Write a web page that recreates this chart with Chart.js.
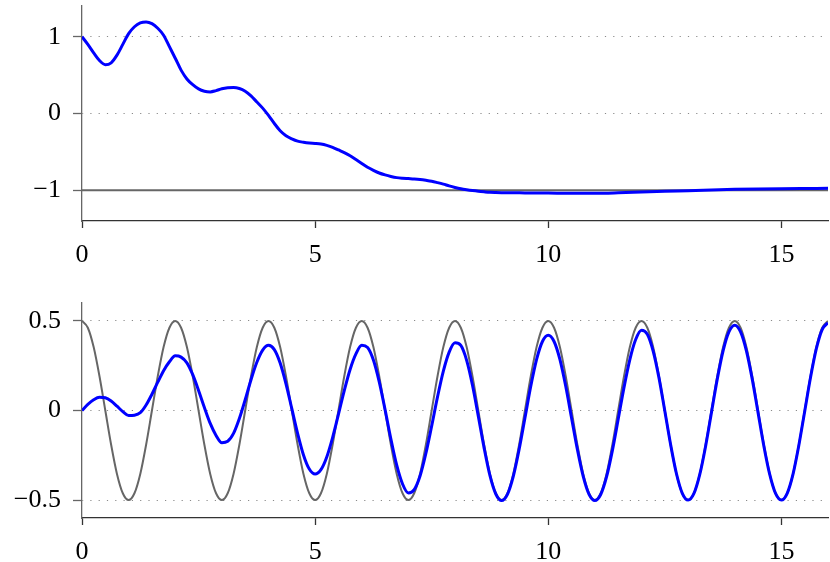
<!DOCTYPE html>
<html>
<head>
<meta charset="utf-8">
<script src="https://cdn.jsdelivr.net/npm/chart.js@4"></script>
<style>
  html, body { margin: 0; padding: 0; background: #fff; }
  #wrap { position: relative; width: 830px; height: 562px; }
  canvas { position: absolute; left: 0; }
</style>
</head>
<body>
<div id="wrap">
  <canvas id="top" width="830" height="270" style="top:0"></canvas>
  <canvas id="bottom" width="830" height="272" style="top:290px"></canvas>
</div>
<script>
// top panel: response vs the constant target -1
const topXs = [0, 0.125, 0.25, 0.375, 0.5, 0.625, 0.75, 0.875, 1, 1.125, 1.25, 1.375, 1.5, 1.625, 1.75, 1.875,
  2, 2.125, 2.25, 2.375, 2.5, 2.625, 2.75, 2.875, 3, 3.125, 3.25, 3.375, 3.5, 3.625, 3.75, 3.875,
  4, 4.125, 4.25, 4.375, 4.5, 4.625, 4.75, 4.875, 5, 5.125, 5.25, 5.375, 5.5, 5.625, 5.75, 5.875,
  6, 6.125, 6.25, 6.375, 6.5, 6.625, 6.75, 6.875, 7, 7.125, 7.25, 7.375, 7.5, 7.625, 7.75, 7.875,
  8, 8.125, 8.25, 8.375, 8.5, 8.625, 8.75, 8.875, 9,
  9.5, 10, 10.5, 11, 11.5, 12, 12.5, 13, 13.5, 14, 14.5, 15, 15.5, 16];
const topResponse = [1.00, 0.90, 0.79, 0.69, 0.636, 0.66, 0.76, 0.90, 1.04, 1.13, 1.18, 1.192, 1.17, 1.11, 1.02, 0.87,
  0.72, 0.565, 0.45, 0.375, 0.32, 0.29, 0.281, 0.298, 0.322, 0.335, 0.338, 0.325, 0.29, 0.23, 0.15, 0.07,
  -0.025, -0.13, -0.225, -0.29, -0.33, -0.36, -0.375, -0.385, -0.39, -0.398, -0.415, -0.44, -0.475, -0.51, -0.55, -0.60,
  -0.65, -0.70, -0.74, -0.775, -0.80, -0.82, -0.835, -0.843, -0.848, -0.853, -0.86, -0.87, -0.882, -0.90, -0.92, -0.943,
  -0.963, -0.98, -0.993, -1.004, -1.013, -1.02, -1.026, -1.029, -1.031,
  -1.034, -1.036, -1.039, -1.039, -1.033, -1.023, -1.013, -1.005, -0.996, -0.987, -0.982, -0.979, -0.977, -0.975];
const topTargetX = [0, 16];
const topTargetY = [-1, -1];

// bottom panel: response vs the periodic target
const bottomXs = [0, 0.125, 0.25, 0.375, 0.5, 0.625, 0.75, 0.875, 1, 1.125, 1.25, 1.375, 1.5, 1.625, 1.75, 1.875,
  2, 2.125, 2.25, 2.375, 2.5, 2.625, 2.75, 2.875, 3, 3.125, 3.25, 3.375, 3.5, 3.625, 3.75, 3.875,
  4, 4.125, 4.25, 4.375, 4.5, 4.625, 4.75, 4.875, 5, 5.125, 5.25, 5.375, 5.5, 5.625, 5.75, 5.875,
  6, 6.125, 6.25, 6.375, 6.5, 6.625, 6.75, 6.875, 7, 7.125, 7.25, 7.375, 7.5, 7.625, 7.75, 7.875,
  8, 8.125, 8.25, 8.375, 8.5, 8.625, 8.75, 8.875, 9, 9.125, 9.25, 9.375, 9.5, 9.625, 9.75, 9.875,
  10, 10.125, 10.25, 10.375, 10.5, 10.625, 10.75, 10.875, 11, 11.125, 11.25, 11.375, 11.5, 11.625, 11.75, 11.875,
  12, 12.125, 12.25, 12.375, 12.5, 12.625, 12.75, 12.875, 13, 13.125, 13.25, 13.375, 13.5, 13.625, 13.75, 13.875,
  14, 14.125, 14.25, 14.375, 14.5, 14.625, 14.75, 14.875, 15, 15.125, 15.25, 15.375, 15.5, 15.625, 15.75, 15.875, 16];
const bottomTarget = [
  0.5, 0.462, 0.354, 0.191, 0, -0.191, -0.354, -0.462, -0.5, -0.462, -0.354, -0.191, 0, 0.191, 0.354, 0.462,
  0.5, 0.462, 0.354, 0.191, 0, -0.191, -0.354, -0.462, -0.5, -0.462, -0.354, -0.191, 0, 0.191, 0.354, 0.462,
  0.5, 0.462, 0.354, 0.191, 0, -0.191, -0.354, -0.462, -0.5, -0.462, -0.354, -0.191, 0, 0.191, 0.354, 0.462,
  0.5, 0.462, 0.354, 0.191, 0, -0.191, -0.354, -0.462, -0.5, -0.462, -0.354, -0.191, 0, 0.191, 0.354, 0.462,
  0.5, 0.462, 0.354, 0.191, 0, -0.191, -0.354, -0.462, -0.5, -0.462, -0.354, -0.191, 0, 0.191, 0.354, 0.462,
  0.5, 0.462, 0.354, 0.191, 0, -0.191, -0.354, -0.462, -0.5, -0.462, -0.354, -0.191, 0, 0.191, 0.354, 0.462,
  0.5, 0.462, 0.354, 0.191, 0, -0.191, -0.354, -0.462, -0.5, -0.462, -0.354, -0.191, 0, 0.191, 0.354, 0.462,
  0.5, 0.462, 0.354, 0.191, 0, -0.191, -0.354, -0.462, -0.5, -0.462, -0.354, -0.191, 0, 0.191, 0.354, 0.462,
  0.5];
const bottomResponse = [
  0, 0.034, 0.060, 0.074, 0.071, 0.053, 0.024, -0.006, -0.028, -0.026, -0.0125, 0.0305, 0.091, 0.158, 0.222, 0.272,
  0.305, 0.298, 0.266, 0.200, 0.112, 0.017, -0.072, -0.139, -0.180, -0.172, -0.128, -0.045, 0.060, 0.172, 0.269, 0.337,
  0.364, 0.340, 0.265, 0.149, 0.010, -0.129, -0.248, -0.327, -0.355, -0.330, -0.259, -0.151, -0.022, 0.111, 0.229, 0.316,
  0.364, 0.352, 0.282, 0.160, 0.005, -0.159, -0.305, -0.410, -0.460, -0.442, -0.366, -0.240, -0.086, 0.076, 0.220, 0.326,
  0.378, 0.363, 0.280, 0.141, -0.032, -0.210, -0.364, -0.466, -0.503, -0.468, -0.368, -0.218, -0.042, 0.135, 0.285, 0.385,
  0.420, 0.385, 0.285, 0.135, -0.042, -0.218, -0.368, -0.468, -0.503, -0.469, -0.371, -0.224, -0.049, 0.129, 0.284, 0.396,
  0.448, 0.426, 0.332, 0.182, -0.003, -0.191, -0.353, -0.462, -0.500, -0.463, -0.357, -0.199, -0.012, 0.175, 0.333, 0.439,
  0.476, 0.439, 0.333, 0.175, -0.012, -0.199, -0.357, -0.463, -0.500, -0.462, -0.355, -0.194, -0.005, 0.184, 0.345, 0.452,
  0.490];

const xTicks = [0, 5, 10, 15];
const topYTicks = [-1, 0, 1];
const bottomYTicks = [-0.5, 0, 0.5];

const font = { family: 'Liberation Serif', size: 26 };
const fmt = v => (v < 0 ? '\u2212' + Math.abs(v) : String(v));
const pts = (xv, yv) => xv.map((x, i) => ({ x: x, y: yv[i] }));

function makeChart(id, cfg) {
  const ctx = document.getElementById(id).getContext('2d');
  return new Chart(ctx, {
    type: 'line',
    data: {
      datasets: [
        {
          data: cfg.blue,
          borderColor: '#0000ff',
          borderWidth: 3,
          pointRadius: 0,
          cubicInterpolationMode: 'monotone',
          fill: false,
        },
        {
          data: cfg.gray,
          borderColor: '#666666',
          borderWidth: 2,
          pointRadius: 0,
          cubicInterpolationMode: 'monotone',
          fill: false,
        },
      ],
    },
    options: {
      responsive: false,
      animation: false,
      devicePixelRatio: 1,
      layout: { padding: { top: cfg.padTop, right: 2, left: 0, bottom: 0 } },
      plugins: { legend: { display: false }, tooltip: { enabled: false } },
      scales: {
        x: {
          type: 'linear',
          min: 0,
          max: 16,
          afterBuildTicks: s => { s.ticks = xTicks.map(v => ({ value: v })); },
          afterFit: s => { s.height = cfg.xHeight; s.paddingLeft = 0; s.paddingRight = 0; },
          grid: { drawOnChartArea: false, tickLength: 7, tickColor: '#333', tickWidth: 1.3 },
          border: { color: '#333', width: 1.3 },
          ticks: { font: font, color: '#000', padding: 12, maxRotation: 0, callback: fmt },
        },
        y: {
          min: cfg.yMin,
          max: cfg.yMax,
          afterBuildTicks: s => { s.ticks = cfg.yTicks.map(v => ({ value: v })); },
          afterFit: s => { s.width = 82; s.paddingTop = 0; s.paddingBottom = 0; },
          grid: { color: '#8a8a8a', lineWidth: 1, tickLength: 9, tickColor: '#666', tickWidth: 1.3 },
          border: { color: '#666', width: 1.3, dash: [1.2, 7.1], dashOffset: 0.3 },
          ticks: { font: font, color: '#000', padding: 12, callback: fmt },
        },
      },
    },
  });
}

makeChart('top', {
  blue: pts(topXs, topResponse),
  gray: pts(topTargetX, topTargetY),
  yMin: -1.4, yMax: 1.4, yTicks: topYTicks,
  padTop: 6, xHeight: 49,
});

makeChart('bottom', {
  blue: pts(bottomXs, bottomResponse),
  gray: pts(bottomXs, bottomTarget),
  yMin: -0.6, yMax: 0.6, yTicks: bottomYTicks,
  padTop: 13, xHeight: 44,
});
</script>
</body>
</html>
